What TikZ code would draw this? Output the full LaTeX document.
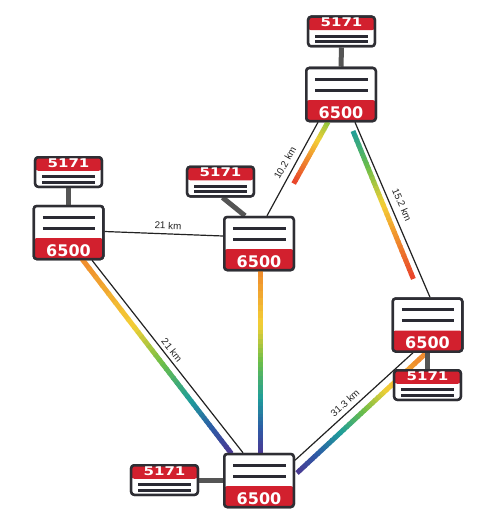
\documentclass[tikz,border=0pt]{standalone}
\usepackage{fontspec}
\usepackage{graphicx}
\setmainfont{Liberation Sans}
\newfontfamily\numfont{DejaVu Sans}
\usetikzlibrary{calc}
\definecolor{framec}{HTML}{2E2E34}
\definecolor{bandred}{HTML}{D2202E}
\definecolor{barc}{HTML}{2A2A33}
\definecolor{linkc}{HTML}{555555}
\definecolor{wirec}{HTML}{222222}
\definecolor{cR}{HTML}{E8432B}
\definecolor{cO}{HTML}{F08A2C}
\definecolor{cY}{HTML}{F3CF36}
\definecolor{cG}{HTML}{6CBE48}
\definecolor{cLG}{HTML}{8CC63F}
\definecolor{cT}{HTML}{1E9D9B}
\definecolor{cB}{HTML}{2D5CA6}
\definecolor{cP}{HTML}{4B3892}
% gradient piece of a stripe: from #1 to #2, parameter #3..#4, colour #5 -> #6
\newcommand\gseg[6]{%
  \foreach \k in {0,...,7}{%
    \pgfmathsetmacro\ta{#3+(#4-#3)*\k/8}%
    \pgfmathsetmacro\tb{#3+(#4-#3)*(\k+1.2)/8}%
    \pgfmathtruncatemacro\pc{100-(\k+0.5)*100/8}%
    \draw[stripe,#5!\pc!#6] ($(#1)!\ta!(#2)$) -- ($(#1)!\tb!(#2)$);}}
\tikzset{
  stripe/.style={line width=5pt, line cap=butt},
  wire/.style={draw=wirec, line width=1.2pt},
  link/.style={draw=linkc, line width=5pt},
  frame/.style={draw=framec, line width=2.5pt, rounded corners=3pt, fill=white, inner sep=0pt},
  bigbox/.style={frame, minimum width=69.5pt, minimum height=53pt, path picture={
    \fill[bandred] (path picture bounding box.south west) rectangle ([yshift=21pt]path picture bounding box.south east);
    \draw[barc, line width=3pt] ([xshift=9pt,yshift=-11pt]path picture bounding box.north west) -- ([xshift=-8pt,yshift=-11pt]path picture bounding box.north east);
    \draw[barc, line width=3pt] ([xshift=9pt,yshift=-22pt]path picture bounding box.north west) -- ([xshift=-8pt,yshift=-22pt]path picture bounding box.north east);
  }},
  smallbox/.style={frame, minimum width=66.6pt, minimum height=29.5pt, path picture={
    \fill[bandred] (path picture bounding box.north west) rectangle ([yshift=-13.5pt]path picture bounding box.north east);
    \draw[barc, line width=2.6pt] ([xshift=7pt,yshift=-19.5pt]path picture bounding box.north west) -- ([xshift=-7pt,yshift=-19.5pt]path picture bounding box.north east);
    \draw[barc, line width=2.6pt] ([xshift=7pt,yshift=-25pt]path picture bounding box.north west) -- ([xshift=-7pt,yshift=-25pt]path picture bounding box.north east);
  }},
  bignum/.style={text=white, inner sep=0pt, font=\numfont\bfseries\fontsize{16}{16}\selectfont},
  smallnum/.style={text=white, inner sep=0pt, font=\numfont\bfseries\fontsize{12}{12}\selectfont},
  km/.style={inner sep=0pt, text=wirec, font=\fontsize{9.8}{10}\selectfont},
}
\begin{document}
\begin{tikzpicture}[x=1pt, y=-1pt]
\useasboundingbox (0,0) rectangle (503,519);
% node placement (boxes drawn later on top)
\path
  (341,94.5) node[bigbox] (T) {}
  (341.5,31.5) node[smallbox] (T5) {}
  (68.5,232.5) node[bigbox] (L) {}
  (68.5,172) node[smallbox] (L5) {}
  (259,243.5) node[bigbox] (M) {}
  (220.5,181.5) node[smallbox] (M5) {}
  (427.5,325) node[bigbox] (R) {}
  (427.5,385) node[smallbox] (R5) {}
  (259,480.5) node[bigbox] (B) {}
  (164.5,480) node[smallbox] (B5) {};
% rainbow stripes
\coordinate (s1a) at (328,122); \coordinate (s1b) at (294,183);
\gseg{s1a}{s1b}{0}{0.3}{cLG}{cY}
\gseg{s1a}{s1b}{0.3}{0.62}{cY}{cO}
\gseg{s1a}{s1b}{0.62}{1}{cO}{cR}
\coordinate (s2a) at (353,131); \coordinate (s2b) at (413,278);
\gseg{s2a}{s2b}{0}{0.25}{cT}{cG}
\gseg{s2a}{s2b}{0.25}{0.5}{cG}{cY}
\gseg{s2a}{s2b}{0.5}{0.75}{cY}{cO}
\gseg{s2a}{s2b}{0.75}{1}{cO}{cR}
\coordinate (s3a) at (82,259); \coordinate (s3b) at (231,453);
\gseg{s3a}{s3b}{0}{0.35}{cO}{cY}
\gseg{s3a}{s3b}{0.35}{0.54}{cY}{cG}
\gseg{s3a}{s3b}{0.54}{0.73}{cG}{cT}
\gseg{s3a}{s3b}{0.73}{0.87}{cT}{cB}
\gseg{s3a}{s3b}{0.87}{1}{cB}{cP}
\coordinate (s4a) at (260,270); \coordinate (s4b) at (260,454);
\gseg{s4a}{s4b}{0}{0.3}{cO}{cY}
\gseg{s4a}{s4b}{0.3}{0.5}{cY}{cG}
\gseg{s4a}{s4b}{0.5}{0.7}{cG}{cT}
\gseg{s4a}{s4b}{0.7}{0.86}{cT}{cB}
\gseg{s4a}{s4b}{0.86}{1}{cB}{cP}
\coordinate (s5a) at (297,473); \coordinate (s5b) at (425,354);
\gseg{s5a}{s5b}{0}{0.16}{cP}{cB}
\gseg{s5a}{s5b}{0.16}{0.34}{cB}{cT}
\gseg{s5a}{s5b}{0.34}{0.52}{cT}{cG}
\gseg{s5a}{s5b}{0.52}{0.7}{cG}{cY}
\gseg{s5a}{s5b}{0.7}{0.95}{cY}{cO}
\gseg{s5a}{s5b}{0.95}{1}{cO}{cO}
% fibre links
\draw[wire] ([yshift=1pt]L.east) -- ([yshift=7.5pt]M.west);
\draw[wire] ([xshift=8pt]M.north) -- ([xshift=-23pt]T.south);
\draw[wire] ([xshift=14pt]T.south) -- ([xshift=2.5pt]R.north);
\draw[wire] ([xshift=23.5pt]L.south) -- ([xshift=-16pt]B.north);
\draw[wire] ([yshift=-7.5pt]B.north east) -- ([xshift=-14.5pt]R.south);
% short links between 5171 and 6500
\draw[link] (T5.south) -- (T.north);
\draw[link] (L5.south) -- (L.north);
\draw[link] ([xshift=2pt]M5.south) -- ([xshift=-14pt]M.north);
\draw[link] (R.south) -- (R5.north);
\draw[link] (B5.east) -- ([yshift=0.5pt]B.west);
% boxes on top
\foreach \n in {T,L,M,R,B}{\node[bigbox] at (\n) {};}
\foreach \n in {T5,L5,M5,R5,B5}{\node[smallbox] at (\n) {};}
% labels
\foreach \n in {T,L,M,R,B}{\node[bignum] (\n-txt) at ([yshift=10pt]\n.south) {6500};}
\foreach \n in {T5,L5,M5,R5,B5}{\node[smallnum] (\n-txt) at ([yshift=-7pt]\n.north) {\scalebox{1.25}[1]{5171}};}
\node[km, rotate=-2] (k1) at (168,225.5) {21 km};
\node[km, rotate=60.5] (k2) at (285,163) {10.2 km};
\node[km, rotate=-66.7] (k3) at (402,205) {15.2 km};
\node[km, rotate=-51.5] (k4) at (172,350) {21 km};
\node[km, rotate=42.2] (k5) at (345,403) {31.3 km};
\end{tikzpicture}
\end{document}
